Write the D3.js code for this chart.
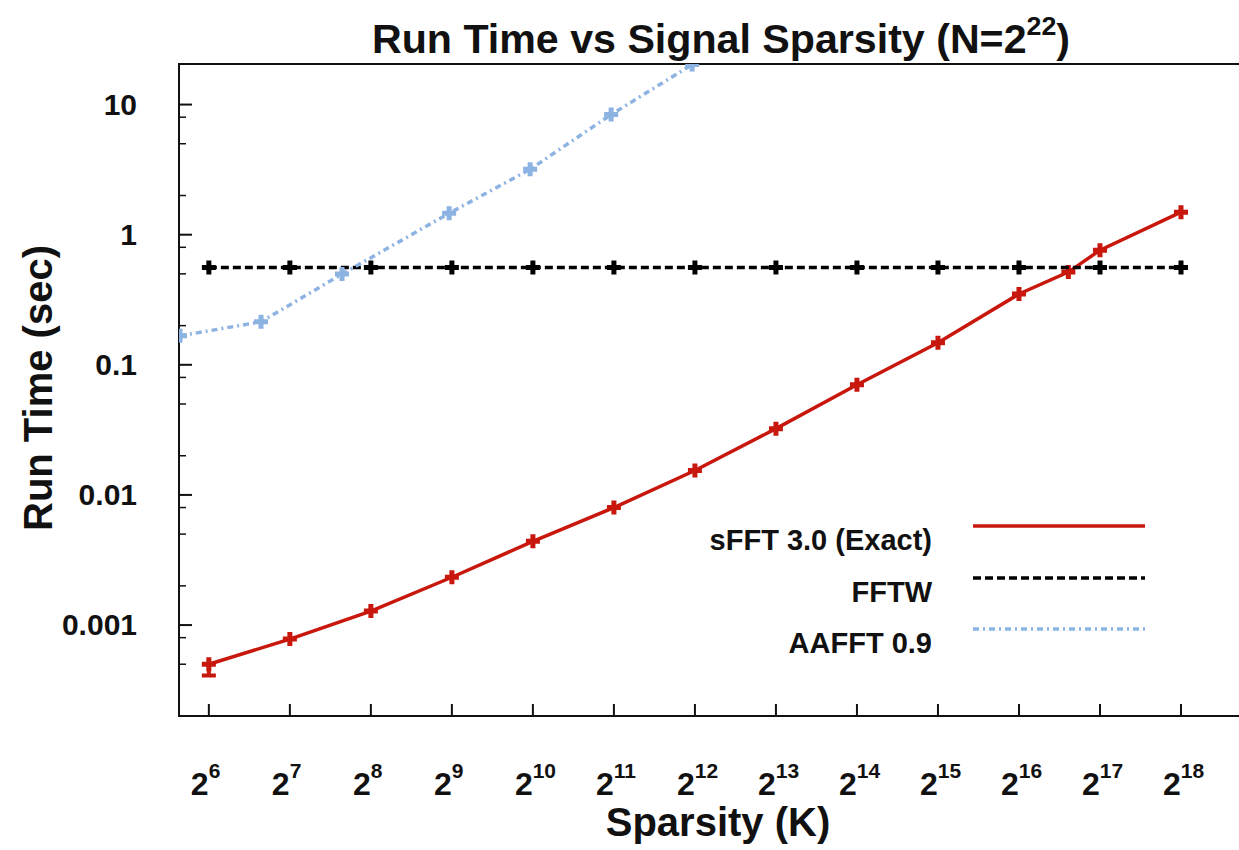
<!DOCTYPE html>
<html>
<head>
<meta charset="utf-8">
<script src="https://d3js.org/d3.v7.min.js"></script>
<style>
  body { margin: 0; background: #fff; }
  svg text { font-family: "Liberation Sans", Arial, Helvetica, sans-serif; font-weight: bold; fill: #111; }
</style>
</head>
<body>
<svg id="chart" width="1239" height="850"></svg>
<script>
// sparsity values (K) and run times in seconds
var sfftK = [64, 128, 256, 512, 1024, 2048, 4096, 8192, 16384, 32768, 65536, 100000, 131072, 262144];
var sfftTime = [0.00050, 0.00078, 0.00128, 0.00233, 0.0044, 0.0080, 0.0154, 0.0323, 0.0703, 0.1475, 0.35, 0.516, 0.76, 1.49];
var sfftLow = [0.00041, null, null, null, null, null, null, null, null, null, null, null, null, null];

var fftwK = [64, 128, 256, 512, 1024, 2048, 4096, 8192, 16384, 32768, 65536, 131072, 262144];
var fftwTime = [0.56, 0.56, 0.56, 0.56, 0.56, 0.56, 0.56, 0.56, 0.56, 0.56, 0.56, 0.56, 0.56];

var aafftK = [50, 100, 200, 500, 1000, 2000, 4000];
var aafftTime = [0.167, 0.214, 0.498, 1.46, 3.18, 8.38, 20.3];

var xTickExp = [6, 7, 8, 9, 10, 11, 12, 13, 14, 15, 16, 17, 18];
var yTicks = [0.001, 0.01, 0.1, 1, 10];
var yMinor = [0.0002, 0.0005, 0.0008, 0.002, 0.005, 0.008, 0.02, 0.05, 0.08, 0.2, 0.5, 0.8, 2, 5, 8];

var series = [
    {name: "sFFT 3.0 (Exact)", k: sfftK, t: sfftTime, color: "#c8170c", dash: null},
    {name: "FFTW", k: fftwK, t: fftwTime, color: "#000000", dash: "8,4"},
    {name: "AAFFT 0.9", k: aafftK, t: aafftTime, color: "#8db3e2", dash: "6,4,2,4"}
];

var plot = {left: 179, top: 64, bottom: 716, right: 1250};

var x = d3.scaleLog().base(2)
    .domain([50, Math.pow(2, 18)])
    .range([180, 1181]);

var y = d3.scaleLog()
    .domain([0.0002, 20.5])
    .range([plot.bottom, plot.top]);

var svg = d3.select("#chart");

svg.append("defs").append("clipPath").attr("id", "clip")
    .append("rect")
    .attr("x", plot.left).attr("y", plot.top)
    .attr("width", plot.right - plot.left).attr("height", plot.bottom - plot.top);

// frame
svg.append("path")
    .attr("d", "M" + plot.right + "," + plot.top + "H" + plot.left + "V" + plot.bottom + "H" + plot.right)
    .attr("fill", "none").attr("stroke", "#111").attr("stroke-width", 2);

// y ticks (inward)
svg.selectAll(".ymaj").data(yTicks).enter().append("line")
    .attr("x1", plot.left).attr("x2", plot.left + 13)
    .attr("y1", d => y(d)).attr("y2", d => y(d))
    .attr("stroke", "#111").attr("stroke-width", 2);
svg.selectAll(".ymin").data(yMinor).enter().append("line")
    .attr("x1", plot.left).attr("x2", plot.left + 7)
    .attr("y1", d => y(d)).attr("y2", d => y(d))
    .attr("stroke", "#111").attr("stroke-width", 1.5);
svg.selectAll(".ylab").data(yTicks).enter().append("text")
    .attr("x", 137).attr("y", d => y(d) + 10)
    .attr("text-anchor", "end")
    .style("font-size", "30px")
    .text(d => d3.format("~g")(d));

// x ticks (inward)
svg.selectAll(".xt").data(xTickExp).enter().append("line")
    .attr("x1", d => x(Math.pow(2, d))).attr("x2", d => x(Math.pow(2, d)))
    .attr("y1", plot.bottom).attr("y2", plot.bottom - 12)
    .attr("stroke", "#111").attr("stroke-width", 2);
var xl = svg.selectAll(".xl").data(xTickExp).enter().append("text")
    .attr("x", d => x(Math.pow(2, d)) - 18).attr("y", 795)
    .style("font-size", "32px");
xl.append("tspan").text("2");
xl.append("tspan").attr("dy", -17).style("font-size", "21px").text(d => d);

// lines
var line = d3.line().x(d => x(d[0])).y(d => y(d[1]));
var g = svg.append("g").attr("clip-path", "url(#clip)");

series.forEach(function(s) {
    var pts = s.k.map((k, i) => [k, s.t[i]]);
    g.append("path")
        .datum(pts)
        .attr("d", line)
        .attr("fill", "none")
        .attr("stroke", s.color)
        .attr("stroke-width", s.dash ? 3.5 : 3.5)
        .attr("stroke-dasharray", s.dash);
    g.selectAll(null).data(pts).enter().append("path")
        .attr("d", d => {
            var cx = x(d[0]), cy = y(d[1]);
            return "M" + (cx - 7) + "," + cy + "H" + (cx + 7) + "M" + cx + "," + (cy - 7) + "V" + (cy + 7);
        })
        .attr("stroke", s.color)
        .attr("stroke-width", 5);
});

// error bar on first sFFT point
sfftK.forEach(function(k, i) {
    if (sfftLow[i] == null) return;
    var cx = x(k);
    g.append("path")
        .attr("d", "M" + cx + "," + y(sfftTime[i]) + "V" + y(sfftLow[i]) +
            "M" + (cx - 7) + "," + y(sfftLow[i]) + "H" + (cx + 7))
        .attr("stroke", series[0].color)
        .attr("stroke-width", 4)
        .attr("fill", "none");
});

// legend
var legY = [550, 602, 653];
series.forEach(function(s, i) {
    svg.append("text")
        .attr("x", 932).attr("y", legY[i])
        .attr("text-anchor", "end")
        .style("font-size", "29px")
        .text(s.name);
    svg.append("line")
        .attr("x1", 973).attr("x2", 1145)
        .attr("y1", legY[i] - 24).attr("y2", legY[i] - 24)
        .attr("stroke", s.color)
        .attr("stroke-width", 3.5)
        .attr("stroke-dasharray", s.dash);
});

// title
var title = svg.append("text")
    .attr("x", 372).attr("y", 53)
    .style("font-size", "40px")
    .attr("textLength", 698)
    .attr("lengthAdjust", "spacingAndGlyphs");
title.append("tspan").text("Run Time vs Signal Sparsity (N=2");
title.append("tspan").attr("dy", -18).style("font-size", "26px").text("22");
title.append("tspan").attr("dy", 18).text(")");

// axis labels
svg.append("text")
    .attr("x", 718).attr("y", 836)
    .attr("text-anchor", "middle")
    .style("font-size", "40px")
    .text("Sparsity (K)");

svg.append("text")
    .attr("transform", "translate(52,388) rotate(-90)")
    .attr("text-anchor", "middle")
    .style("font-size", "40px")
    .text("Run Time (sec)");
</script>
</body>
</html>
